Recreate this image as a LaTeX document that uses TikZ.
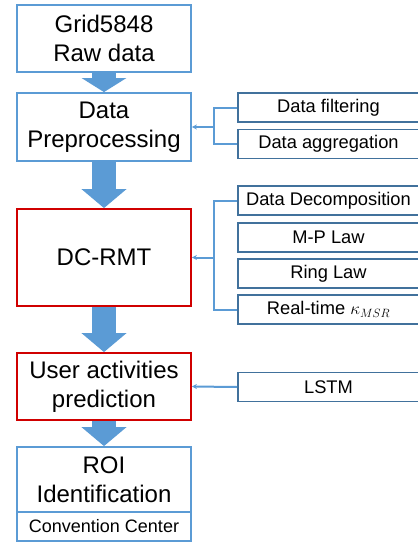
\documentclass[tikz,border=0pt]{standalone}
\usepackage{fontspec}
\setmainfont{Liberation Sans}
\usetikzlibrary{arrows.meta}

\definecolor{lightblue}{RGB}{91,155,213}
\definecolor{darkblue}{RGB}{65,113,156}
\definecolor{boxred}{RGB}{208,0,0}

\tikzset{
    mainbox/.style={draw=lightblue, line width=1.8pt, fill=white, minimum width=174pt, align=center,
        inner sep=0pt, font=\fontsize{24}{29}\selectfont},
    redbox/.style={mainbox, draw=boxred},
    subbox/.style={draw=darkblue, line width=1.8pt, minimum width=181pt, minimum height=29pt,
        inner sep=0pt, font=\fontsize{18.3}{22}\selectfont},
    blockarrow/.style={-{Triangle[width=44pt, length=19pt]}, line width=24pt, color=lightblue},
    link/.style={draw=lightblue, line width=2pt},
    linkarrow/.style={link, -{Stealth[length=5pt, width=5pt]}}
}

\begin{document}
\begin{tikzpicture}[x=1pt, y=-1pt]
            \useasboundingbox (0,0) rectangle (418,542);

            % Left column nodes
            \node[mainbox, minimum height=67pt] (raw) at (104,38.5) {Grid5848\\Raw data};
            \node[mainbox, minimum height=68pt] (prep) at (104,127) {Data\\Preprocessing};
            \node[redbox, minimum height=97pt] (rmt) at (104,257.5) {DC-RMT};
            \node[redbox, minimum height=67pt] (pred) at (104,386.5) {User activities\\prediction};
            \node[mainbox, minimum height=65pt] (roi) at (104,479.5) {ROI\\Identification};
            \node[mainbox, minimum height=29pt, font=\fontsize{18}{22}\selectfont] (conv) at (104,526.5) {Convention Center};

            % Block arrows between stages
            \draw[blockarrow, -{Triangle[width=44pt, length=14pt]}] (raw.south) -- (prep.north);
            \draw[blockarrow] (prep.south) -- (rmt.north);
            \draw[blockarrow] (rmt.south) -- (pred.north);
            \draw[blockarrow] (pred.south) -- (roi.north);

            % Preprocessing steps
            \node[subbox] (filt) at (328.5,107.5) {Data filtering};
            \node[subbox] (aggr) at (328.5,144) {Data aggregation};
            \coordinate (j1) at (214,127);
            \draw[link] (filt.west) -- (214,107.5) |- (aggr.west);
            \draw[linkarrow] (j1) -- (prep.east);

            % DC-RMT steps
            \node[subbox] (decomp) at (328.5,200.5) {Data Decomposition};
            \node[subbox] (mplaw) at (328.5,237.5) {M-P Law};
            \node[subbox] (ring) at (328.5,273.5) {Ring Law};
            \node[subbox] (kmsr) at (328.5,309.5) {Real-time $\kappa_{MSR}$};
            \coordinate (j2) at (214,257.5);
            \draw[link] (decomp.west) -- (214,200.5) |- (kmsr.west);
            \draw[linkarrow] (j2) -- (rmt.east);

            % Prediction model
            \node[subbox] (lstm) at (328.5,387) {LSTM};
            \draw[linkarrow] (lstm.west) -- (pred.east);
        \end{tikzpicture}
\end{document}
